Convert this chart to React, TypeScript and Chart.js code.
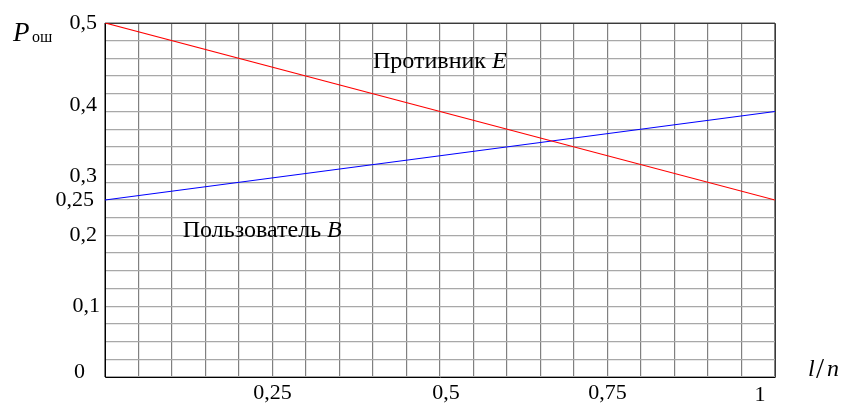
import React, { useEffect, useRef } from "react";
import { Chart, registerables } from "chart.js";

Chart.register(...registerables);

// Data
const xValues = [0, 1];
const opponentE = [0.5, 0.25];
const userB = [0.25, 0.375];

const yTickValues = [0.5, 0.4, 0.3, 0.25, 0.2, 0.1, 0];
const yTickLabels = ["0,5", "0,4", "0,3", "0,25", "0,2", "0,1", "0"];
const xTickValues = [0.25, 0.5, 0.75, 1];
const xTickLabels = ["0,25", "0,5", "0,75", "1"];

const seriesNames = ["Противник", "Пользователь"];
const seriesLetters = ["E", "B"];

const SERIF = "'Liberation Serif'";

// small hand-placement nudges present in the reference figure
const yNudge: Record<string, [number, number]> = {
  "0,4": [0, 11],
  "0,3": [0, 12],
  "0,25": [-3, 0],
  "0,1": [3, 0],
  "0": [-12, -5],
};
const xNudge: Record<string, [number, number]> = {
  "0,5": [6, 0],
  "1": [-15, 2],
};

const labelsPlugin = {
  id: "labelsPlugin",
  beforeDatasetsDraw(chart: any) {
    const { ctx, chartArea } = chart;
    const { left, right, top, bottom } = chartArea;
    ctx.save();
    ctx.lineWidth = 1;
    ctx.strokeStyle = "#3a3a3a";
    ctx.beginPath();
    ctx.moveTo(left, top + 0.5);
    ctx.lineTo(right + 0.5, top + 0.5);
    ctx.lineTo(right + 0.5, bottom);
    ctx.stroke();
    ctx.strokeStyle = "#000000";
    ctx.beginPath();
    ctx.moveTo(left + 0.5, top);
    ctx.lineTo(left + 0.5, bottom + 0.5);
    ctx.lineTo(right + 0.5, bottom + 0.5);
    ctx.stroke();
    ctx.restore();
  },
  afterDraw(chart: any) {
    const { ctx, chartArea, scales } = chart;
    const xs = scales.x;
    const ys = scales.y;
    ctx.save();
    ctx.fillStyle = "#000000";
    ctx.font = `22px ${SERIF}`;
    ctx.textAlign = "right";
    ctx.textBaseline = "middle";
    yTickValues.forEach((v, i) => {
      const t = yTickLabels[i];
      const n = yNudge[t] || [0, 0];
      ctx.fillText(t, chartArea.left - 8 + n[0], ys.getPixelForValue(v) + n[1]);
    });
    ctx.textAlign = "center";
    xTickValues.forEach((v, i) => {
      const t = xTickLabels[i];
      const n = xNudge[t] || [0, 0];
      ctx.fillText(t, xs.getPixelForValue(v) + n[0], chartArea.bottom + 16 + n[1]);
    });

    // series annotations
    ctx.textAlign = "left";
    ctx.textBaseline = "alphabetic";
    const ann = [
      { x: 0.4, y: 0.437 },
      { x: 0.116, y: 0.198 },
    ];
    ann.forEach((a, i) => {
      const px = xs.getPixelForValue(a.x);
      const py = ys.getPixelForValue(a.y);
      ctx.font = `24px ${SERIF}`;
      const txt = seriesNames[i] + " ";
      ctx.fillText(txt, px, py);
      const w = ctx.measureText(txt).width;
      ctx.font = `italic 24px ${SERIF}`;
      ctx.fillText(seriesLetters[i], px + w, py);
    });

    // axis titles
    ctx.font = `italic 27px ${SERIF}`;
    ctx.fillText("P", 13, 41);
    ctx.font = `16px ${SERIF}`;
    ctx.fillText("ош", 32, 42);

    ctx.font = `italic 24px ${SERIF}`;
    ctx.fillText("l", 808, 376);
    ctx.font = `29px ${SERIF}`;
    ctx.fillText("/", 816, 378);
    ctx.font = `italic 24px ${SERIF}`;
    ctx.fillText("n", 827, 376);
    ctx.restore();
  },
};

export default function App() {
  const ref = useRef<HTMLCanvasElement | null>(null);
  useEffect(() => {
    if (!ref.current) return;
    const toPts = (ys: number[]) => xValues.map((x, i) => ({ x, y: ys[i] }));
    const chart = new Chart(ref.current, {
      type: "line",
      data: {
        datasets: [
          {
            label: seriesNames[0] + " " + seriesLetters[0],
            data: toPts(opponentE),
            borderColor: "#ff0000",
            borderWidth: 1.2,
            pointRadius: 0,
            fill: false,
          },
          {
            label: seriesNames[1] + " " + seriesLetters[1],
            data: toPts(userB),
            borderColor: "#0000ff",
            borderWidth: 1.2,
            pointRadius: 0,
            fill: false,
          },
        ],
      },
      options: {
        responsive: false,
        animation: false,
        devicePixelRatio: 1,
        layout: { padding: { left: 105, right: 68, top: 23, bottom: 26 } },
        plugins: {
          legend: { display: false },
          tooltip: { enabled: false },
        },
        scales: {
          x: {
            type: "linear",
            min: 0,
            max: 1,
            afterBuildTicks: (s: any) => {
              const t = [];
              for (let i = 0; i <= 20; i++) t.push({ value: i * 0.05 });
              s.ticks = t;
            },
            ticks: { display: false },
            grid: { color: "#808080", lineWidth: 1.2, drawTicks: false },
            border: { display: false },
          },
          y: {
            type: "linear",
            min: 0,
            max: 0.5,
            afterBuildTicks: (s: any) => {
              const t = [];
              for (let i = 0; i <= 20; i++) t.push({ value: i * 0.025 });
              s.ticks = t;
            },
            ticks: { display: false },
            grid: { color: "#a8a8a8", lineWidth: 1.2, drawTicks: false },
            border: { display: false },
          },
        },
      },
      plugins: [labelsPlugin],
    });
    return () => chart.destroy();
  }, []);
  return (
    <div style={{ position: "absolute", left: 0, top: 0, width: 843, height: 403, background: "#fff" }}>
      <canvas ref={ref} width={843} height={403} />
    </div>
  );
}
